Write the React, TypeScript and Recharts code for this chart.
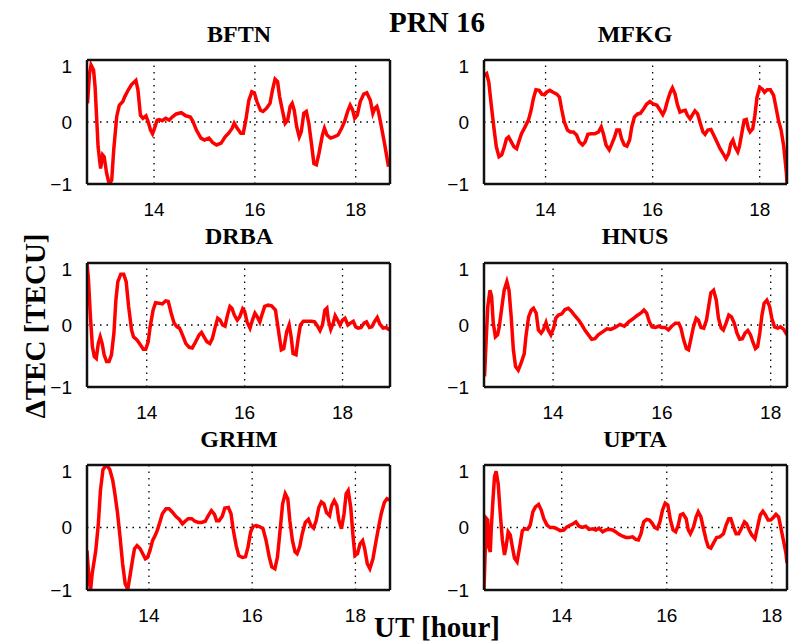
import React from "react";
import { LineChart, Line, XAxis, YAxis, ReferenceLine } from "recharts";

// ΔTEC time series, PRN 16, [UT hour, TECU]
const bftn: [number, number][] = [
  [12.68, 0.3], [12.72, 0.78], [12.75, 0.92], [12.8, 0.84], [12.83, 0.57], [12.86, 0.09], [12.89, -0.4], [12.94, -0.75],
  [12.98, -0.53], [13.01, -0.56], [13.06, -0.83], [13.11, -1.0], [13.16, -0.94], [13.2, -0.45], [13.26, 0.09], [13.31, 0.27],
  [13.38, 0.33], [13.42, 0.41], [13.49, 0.52], [13.55, 0.6], [13.64, 0.67], [13.68, 0.52], [13.73, 0.11], [13.78, 0.06],
  [13.84, 0.1], [13.88, 0.01], [13.93, -0.13], [13.97, -0.19], [14.01, -0.1], [14.06, 0.03], [14.11, 0.04], [14.16, 0.02],
  [14.23, 0.06], [14.3, 0.03], [14.36, 0.08], [14.44, 0.13], [14.54, 0.15], [14.63, 0.1], [14.72, 0.08], [14.77, 0.01],
  [14.84, -0.13], [14.93, -0.26], [15.0, -0.29], [15.09, -0.26], [15.16, -0.33], [15.24, -0.37], [15.33, -0.34], [15.41, -0.24],
  [15.48, -0.18], [15.55, -0.1], [15.59, -0.02], [15.64, -0.09], [15.72, -0.18], [15.77, -0.18], [15.82, 0.03], [15.88, 0.35],
  [15.94, 0.49], [15.99, 0.47], [16.04, 0.33], [16.11, 0.19], [16.16, 0.17], [16.23, 0.22], [16.3, 0.3], [16.35, 0.52],
  [16.4, 0.69], [16.45, 0.65], [16.49, 0.41], [16.55, 0.17], [16.6, -0.02], [16.65, 0.03], [16.7, 0.25], [16.74, 0.3],
  [16.78, 0.19], [16.83, -0.08], [16.88, -0.24], [16.92, -0.16], [16.97, 0.14], [17.02, 0.17], [17.07, -0.02], [17.13, -0.4],
  [17.17, -0.67], [17.22, -0.69], [17.27, -0.51], [17.34, -0.21], [17.38, -0.1], [17.43, -0.21], [17.5, -0.26], [17.57, -0.24],
  [17.65, -0.21], [17.72, -0.1], [17.78, 0.01], [17.84, 0.17], [17.89, 0.27], [17.94, 0.19], [17.98, 0.06], [18.03, 0.11],
  [18.09, 0.33], [18.16, 0.45], [18.22, 0.47], [18.29, 0.35], [18.34, 0.14], [18.38, 0.22], [18.42, 0.25], [18.45, 0.17],
  [18.51, -0.08], [18.57, -0.34], [18.65, -0.72],
];

const mfkg: [number, number][] = [
  [12.85, 0.75], [12.9, 0.78], [12.94, 0.64], [12.99, 0.24], [13.04, -0.13], [13.08, -0.4], [13.13, -0.56], [13.18, -0.53],
  [13.23, -0.4], [13.27, -0.27], [13.31, -0.24], [13.36, -0.32], [13.41, -0.4], [13.46, -0.43], [13.5, -0.32], [13.55, -0.19],
  [13.61, -0.09], [13.68, 0.03], [13.73, 0.19], [13.77, 0.37], [13.82, 0.52], [13.88, 0.51], [13.93, 0.45], [13.98, 0.44],
  [14.02, 0.48], [14.08, 0.51], [14.14, 0.48], [14.21, 0.45], [14.26, 0.4], [14.3, 0.21], [14.35, 0.0], [14.41, -0.13],
  [14.46, -0.16], [14.52, -0.16], [14.58, -0.21], [14.63, -0.32], [14.69, -0.37], [14.74, -0.32], [14.79, -0.2], [14.85, -0.19],
  [14.92, -0.19], [14.99, -0.16], [15.04, -0.08], [15.08, -0.19], [15.13, -0.37], [15.19, -0.45], [15.24, -0.35], [15.29, -0.24],
  [15.33, -0.13], [15.38, -0.13], [15.42, -0.27], [15.47, -0.37], [15.52, -0.39], [15.57, -0.29], [15.61, -0.08], [15.66, 0.08],
  [15.72, 0.13], [15.77, 0.14], [15.83, 0.21], [15.89, 0.29], [15.95, 0.33], [16.01, 0.29], [16.08, 0.27], [16.14, 0.19],
  [16.19, 0.12], [16.23, 0.19], [16.28, 0.35], [16.33, 0.48], [16.37, 0.55], [16.42, 0.45], [16.46, 0.29], [16.51, 0.16],
  [16.56, 0.18], [16.61, 0.19], [16.65, 0.11], [16.7, 0.05], [16.74, 0.11], [16.79, 0.18], [16.84, 0.13], [16.89, -0.02],
  [16.94, -0.16], [16.98, -0.2], [17.03, -0.13], [17.09, -0.12], [17.14, -0.21], [17.2, -0.32], [17.26, -0.43], [17.33, -0.53],
  [17.37, -0.59], [17.42, -0.51], [17.46, -0.35], [17.5, -0.29], [17.54, -0.4], [17.59, -0.48], [17.62, -0.4], [17.67, -0.16],
  [17.71, 0.03], [17.75, 0.04], [17.79, -0.11], [17.82, -0.16], [17.87, -0.11], [17.91, 0.11], [17.95, 0.4], [18.0, 0.56],
  [18.05, 0.53], [18.09, 0.48], [18.14, 0.52], [18.2, 0.52], [18.26, 0.43], [18.31, 0.21], [18.35, 0.03], [18.4, -0.13],
  [18.45, -0.4], [18.5, -0.83], [18.51, -1.0],
];

const drba: [number, number][] = [
  [12.78, 1.0], [12.81, 0.73], [12.85, 0.13], [12.89, -0.35], [12.93, -0.51], [12.97, -0.54], [13.01, -0.3], [13.05, -0.19],
  [13.09, -0.3], [13.13, -0.48], [13.18, -0.59], [13.23, -0.59], [13.28, -0.48], [13.33, -0.13], [13.37, 0.4], [13.41, 0.7],
  [13.47, 0.82], [13.53, 0.82], [13.58, 0.7], [13.63, 0.3], [13.69, -0.08], [13.73, -0.19], [13.8, -0.24], [13.87, -0.32],
  [13.93, -0.39], [13.98, -0.39], [14.03, -0.27], [14.07, -0.03], [14.13, 0.24], [14.18, 0.36], [14.25, 0.35], [14.32, 0.34],
  [14.39, 0.39], [14.44, 0.38], [14.5, 0.19], [14.56, 0.03], [14.62, -0.03], [14.67, -0.05], [14.73, -0.16], [14.8, -0.3],
  [14.87, -0.36], [14.93, -0.37], [15.0, -0.27], [15.07, -0.16], [15.12, -0.12], [15.17, -0.19], [15.23, -0.27], [15.29, -0.3],
  [15.34, -0.22], [15.4, -0.03], [15.45, 0.11], [15.5, 0.08], [15.55, 0.0], [15.6, -0.02], [15.65, 0.16], [15.7, 0.3],
  [15.74, 0.27], [15.79, 0.16], [15.85, 0.08], [15.9, 0.13], [15.96, 0.26], [16.0, 0.22], [16.05, 0.05], [16.11, -0.05],
  [16.16, 0.08], [16.21, 0.19], [16.26, 0.13], [16.31, 0.05], [16.36, 0.18], [16.41, 0.3], [16.48, 0.32], [16.55, 0.31],
  [16.63, 0.24], [16.66, 0.08], [16.71, -0.19], [16.75, -0.4], [16.8, -0.38], [16.86, -0.11], [16.91, 0.0], [16.95, -0.19],
  [16.99, -0.46], [17.05, -0.48], [17.09, -0.24], [17.14, 0.0], [17.2, 0.06], [17.28, 0.06], [17.37, 0.06], [17.43, 0.05],
  [17.49, -0.02], [17.54, -0.09], [17.59, 0.0], [17.64, 0.24], [17.68, 0.27], [17.71, 0.08], [17.76, -0.07], [17.81, 0.03],
  [17.85, 0.15], [17.9, 0.08], [17.95, 0.0], [18.0, 0.08], [18.05, 0.11], [18.11, 0.0], [18.16, 0.03], [18.22, 0.06],
  [18.27, -0.03], [18.32, -0.05], [18.38, -0.04], [18.44, 0.03], [18.49, 0.05], [18.55, -0.04], [18.6, -0.03], [18.65, 0.05],
  [18.71, 0.12], [18.76, 0.02], [18.83, -0.05], [18.89, -0.04], [18.96, -0.08],
];

const hnus: [number, number][] = [
  [12.74, -0.83], [12.77, -0.24], [12.8, 0.3], [12.84, 0.56], [12.87, 0.46], [12.9, 0.03], [12.94, -0.19], [12.98, -0.16],
  [13.01, -0.03], [13.06, 0.3], [13.1, 0.56], [13.15, 0.7], [13.19, 0.56], [13.23, 0.13], [13.27, -0.4], [13.31, -0.67],
  [13.36, -0.73], [13.41, -0.62], [13.47, -0.46], [13.5, -0.19], [13.55, 0.13], [13.6, 0.24], [13.64, 0.27], [13.69, 0.19],
  [13.73, -0.08], [13.78, -0.13], [13.82, -0.08], [13.87, 0.04], [13.91, -0.08], [13.96, -0.16], [14.01, -0.05], [14.05, 0.11],
  [14.1, 0.16], [14.16, 0.18], [14.22, 0.25], [14.28, 0.27], [14.34, 0.22], [14.4, 0.15], [14.47, 0.08], [14.53, 0.0],
  [14.59, -0.09], [14.65, -0.16], [14.71, -0.23], [14.77, -0.22], [14.83, -0.16], [14.91, -0.11], [14.99, -0.06], [15.06, -0.07],
  [15.14, -0.04], [15.23, 0.01], [15.31, -0.02], [15.39, 0.05], [15.47, 0.1], [15.54, 0.15], [15.61, 0.19], [15.67, 0.24],
  [15.72, 0.19], [15.77, 0.05], [15.82, -0.03], [15.88, -0.04], [15.94, -0.02], [16.0, -0.04], [16.06, -0.04], [16.12, -0.08],
  [16.18, -0.02], [16.25, 0.03], [16.31, 0.03], [16.35, -0.05], [16.4, -0.24], [16.45, -0.38], [16.49, -0.4], [16.53, -0.24],
  [16.58, -0.03], [16.63, 0.11], [16.67, 0.08], [16.72, -0.04], [16.77, -0.05], [16.82, 0.08], [16.86, 0.3], [16.9, 0.52],
  [16.95, 0.56], [17.0, 0.4], [17.04, 0.11], [17.09, -0.05], [17.13, -0.08], [17.18, 0.03], [17.23, 0.16], [17.28, 0.13],
  [17.33, 0.03], [17.38, -0.13], [17.43, -0.23], [17.48, -0.22], [17.53, -0.13], [17.58, -0.09], [17.63, -0.16], [17.67, -0.27],
  [17.72, -0.38], [17.76, -0.35], [17.8, -0.13], [17.84, 0.16], [17.88, 0.35], [17.93, 0.4], [17.98, 0.3], [18.02, 0.11],
  [18.07, -0.03], [18.13, -0.05], [18.18, -0.03], [18.24, -0.07], [18.3, -0.16],
];

const grhm: [number, number][] = [
  [12.8, -0.37], [12.84, -0.84], [12.87, -1.0], [12.9, -0.74], [12.93, -0.58], [12.97, -0.37], [13.02, 0.06], [13.06, 0.59],
  [13.11, 0.93], [13.18, 1.0], [13.24, 0.93], [13.3, 0.75], [13.34, 0.54], [13.39, 0.24], [13.44, -0.15], [13.49, -0.58],
  [13.54, -0.9], [13.59, -0.99], [13.63, -0.79], [13.68, -0.53], [13.72, -0.34], [13.77, -0.29], [13.83, -0.34], [13.88, -0.42],
  [13.93, -0.5], [13.97, -0.48], [14.02, -0.37], [14.07, -0.21], [14.12, -0.13], [14.16, -0.05], [14.21, 0.08], [14.26, 0.22],
  [14.33, 0.3], [14.39, 0.3], [14.46, 0.24], [14.52, 0.18], [14.59, 0.13], [14.65, 0.06], [14.7, 0.1], [14.76, 0.14],
  [14.83, 0.14], [14.89, 0.1], [14.96, 0.08], [15.02, 0.08], [15.09, 0.1], [15.15, 0.19], [15.21, 0.27], [15.27, 0.21],
  [15.31, 0.11], [15.36, 0.11], [15.42, 0.18], [15.47, 0.31], [15.54, 0.32], [15.59, 0.22], [15.63, -0.02], [15.69, -0.29],
  [15.74, -0.45], [15.81, -0.48], [15.87, -0.47], [15.92, -0.31], [15.97, -0.07], [16.02, 0.02], [16.08, 0.03], [16.15, 0.01],
  [16.21, -0.02], [16.27, -0.21], [16.33, -0.47], [16.38, -0.63], [16.44, -0.66], [16.49, -0.47], [16.54, -0.05], [16.59, 0.38],
  [16.64, 0.54], [16.69, 0.46], [16.73, 0.11], [16.78, -0.21], [16.83, -0.39], [16.87, -0.42], [16.92, -0.31], [16.97, -0.1],
  [17.03, 0.08], [17.09, 0.13], [17.14, 0.03], [17.19, -0.01], [17.24, 0.11], [17.29, 0.32], [17.34, 0.41], [17.39, 0.38],
  [17.44, 0.24], [17.5, 0.19], [17.54, 0.35], [17.59, 0.43], [17.64, 0.35], [17.68, 0.11], [17.73, -0.02], [17.78, 0.22],
  [17.82, 0.54], [17.86, 0.59], [17.91, 0.32], [17.95, -0.1], [17.99, -0.45], [18.04, -0.42], [18.09, -0.26], [18.14, -0.21],
  [18.18, -0.34], [18.23, -0.58], [18.28, -0.66], [18.34, -0.5], [18.39, -0.26], [18.45, 0.01], [18.5, 0.22], [18.56, 0.4],
  [18.61, 0.46], [18.66, 0.44],
];

const upta: [number, number][] = [
  [12.52, -1.0], [12.55, -0.2], [12.57, 0.14], [12.59, 0.12], [12.61, -0.31], [12.64, -0.39], [12.66, 0.01], [12.69, 0.43],
  [12.72, 0.81], [12.75, 0.9], [12.79, 0.7], [12.83, 0.22], [12.87, -0.2], [12.91, -0.44], [12.94, -0.31], [12.98, -0.07],
  [13.02, -0.12], [13.06, -0.31], [13.1, -0.49], [13.15, -0.55], [13.2, -0.31], [13.25, -0.05], [13.3, -0.02], [13.35, -0.03],
  [13.4, 0.04], [13.45, 0.25], [13.5, 0.33], [13.56, 0.37], [13.61, 0.28], [13.66, 0.14], [13.72, 0.04], [13.78, 0.0],
  [13.85, 0.0], [13.91, -0.02], [13.97, -0.05], [14.04, -0.04], [14.1, 0.01], [14.17, 0.04], [14.22, 0.06], [14.27, 0.09],
  [14.33, 0.02], [14.39, 0.0], [14.46, 0.02], [14.52, -0.03], [14.59, -0.02], [14.65, -0.04], [14.71, -0.01], [14.78, -0.07],
  [14.84, -0.04], [14.9, -0.03], [14.97, -0.04], [15.03, -0.07], [15.09, -0.11], [15.16, -0.14], [15.22, -0.16], [15.28, -0.16],
  [15.35, -0.15], [15.41, -0.19], [15.46, -0.2], [15.51, -0.1], [15.56, 0.09], [15.62, 0.13], [15.67, 0.12], [15.72, 0.07],
  [15.77, 0.0], [15.82, -0.02], [15.87, 0.09], [15.92, 0.28], [15.97, 0.39], [16.02, 0.36], [16.07, 0.12], [16.12, -0.04],
  [16.17, -0.07], [16.22, 0.04], [16.26, 0.2], [16.31, 0.22], [16.37, 0.14], [16.41, -0.04], [16.45, -0.1], [16.51, 0.01],
  [16.56, 0.17], [16.6, 0.25], [16.65, 0.17], [16.7, -0.02], [16.75, -0.2], [16.79, -0.31], [16.84, -0.33], [16.89, -0.25],
  [16.95, -0.16], [17.01, -0.15], [17.08, -0.1], [17.13, 0.04], [17.18, 0.14], [17.22, 0.14], [17.27, 0.01], [17.32, -0.1],
  [17.37, -0.1], [17.43, 0.0], [17.48, 0.09], [17.52, 0.06], [17.57, -0.04], [17.62, -0.12], [17.68, -0.18], [17.73, 0.01],
  [17.78, 0.2], [17.83, 0.26], [17.88, 0.2], [17.93, 0.12], [17.98, 0.12], [18.03, 0.16], [18.08, 0.21], [18.13, 0.17],
  [18.17, 0.01], [18.22, -0.2], [18.27, -0.41], [18.29, -0.57],
];

const xTicks = [14, 16, 18];
const yTicks = [-1, 0, 1];

const SANS = "'Liberation Sans', Arial, Helvetica, sans-serif";
const SERIF = "'Liberation Serif', 'Times New Roman', serif";

const PLOT_W = 303;
const Y_AXIS_W = 60;
const X_AXIS_H = 40;
const PAD = 5;

const fmtY = (v: number) => (v < 0 ? `\u2212${Math.abs(v)}` : String(v));

type PanelProps = {
  series: [number, number][];
  domain: [number, number];
  left: number;
  top: number;
  plotH: number;
};

function Panel({ series, domain, left, top, plotH }: PanelProps) {
  const rows = series.map(([t, v]) => ({ t, v }));
  const tickStyle = { fill: "#000", fontSize: 19, fontFamily: SANS };
  const grid = { stroke: "#000", strokeDasharray: "1.5 5", strokeWidth: 1.3, ifOverflow: "visible" as const };
  const edge = { stroke: "#111", strokeWidth: 2.5, ifOverflow: "visible" as const };
  return (
    <div style={{ position: "absolute", left: left - Y_AXIS_W, top: top - PAD }}>
      <LineChart
        width={Y_AXIS_W + PLOT_W + PAD}
        height={PAD + plotH + X_AXIS_H}
        data={rows}
        margin={{ top: PAD, right: PAD, bottom: 0, left: 0 }}
      >
        <XAxis
          dataKey="t"
          type="number"
          domain={domain}
          ticks={xTicks}
          allowDataOverflow
          height={X_AXIS_H}
          axisLine={false}
          tickLine={false}
          tickMargin={13}
          tick={tickStyle}
        />
        <YAxis
          type="number"
          domain={[-1, 1]}
          ticks={yTicks}
          allowDataOverflow
          width={Y_AXIS_W}
          axisLine={false}
          tickLine={false}
          tickMargin={9}
          tick={tickStyle}
          tickFormatter={fmtY}
        />
        {xTicks.map((t) => (
          <ReferenceLine key={`gx${t}`} x={t} {...grid} />
        ))}
        <ReferenceLine y={0} {...grid} />
        <Line
          type="linear"
          dataKey="v"
          stroke="#ff0000"
          strokeWidth={3.5}
          dot={false}
          isAnimationActive={false}
        />
        <ReferenceLine x={domain[0]} {...edge} />
        <ReferenceLine x={domain[1]} {...edge} />
        <ReferenceLine y={-1} {...edge} />
        <ReferenceLine y={1} {...edge} />
      </LineChart>
    </div>
  );
}

export default function App() {
  return (
    <div
      style={{
        position: "absolute",
        left: 0,
        top: 0,
        width: 792,
        height: 644,
        background: "#fff",
        overflow: "hidden",
      }}
    >
      <Panel series={bftn} domain={[12.67, 18.68]} left={87} top={60} plotH={124} />
      <Panel series={mfkg} domain={[12.85, 18.51]} left={484} top={60} plotH={124} />
      <Panel series={drba} domain={[12.78, 18.97]} left={87} top={263} plotH={124} />
      <Panel series={hnus} domain={[12.73, 18.3]} left={484} top={263} plotH={124} />
      <Panel series={grhm} domain={[12.8, 18.67]} left={87} top={465} plotH={125} />
      <Panel series={upta} domain={[12.52, 18.29]} left={484} top={465} plotH={125} />

      <svg
        width={792}
        height={644}
        style={{ position: "absolute", left: 0, top: 0, pointerEvents: "none" }}
        fontFamily={SERIF}
        fontWeight="bold"
        fill="#000"
        textAnchor="middle"
      >
        <text x={437} y={32} fontSize={29}>PRN 16</text>
        <text x={239} y={42} fontSize={24}>BFTN</text>
        <text x={635} y={42} fontSize={24}>MFKG</text>
        <text x={239} y={244} fontSize={24}>DRBA</text>
        <text x={635} y={244} fontSize={24}>HNUS</text>
        <text x={239} y={447} fontSize={24}>GRHM</text>
        <text x={635} y={447} fontSize={24}>UPTA</text>
        <text x={45} y={326} fontSize={29} transform="rotate(-90 45 326)">ΔTEC [TECU]</text>
        <text x={437} y={637} fontSize={29}>UT [hour]</text>
      </svg>
    </div>
  );
}
